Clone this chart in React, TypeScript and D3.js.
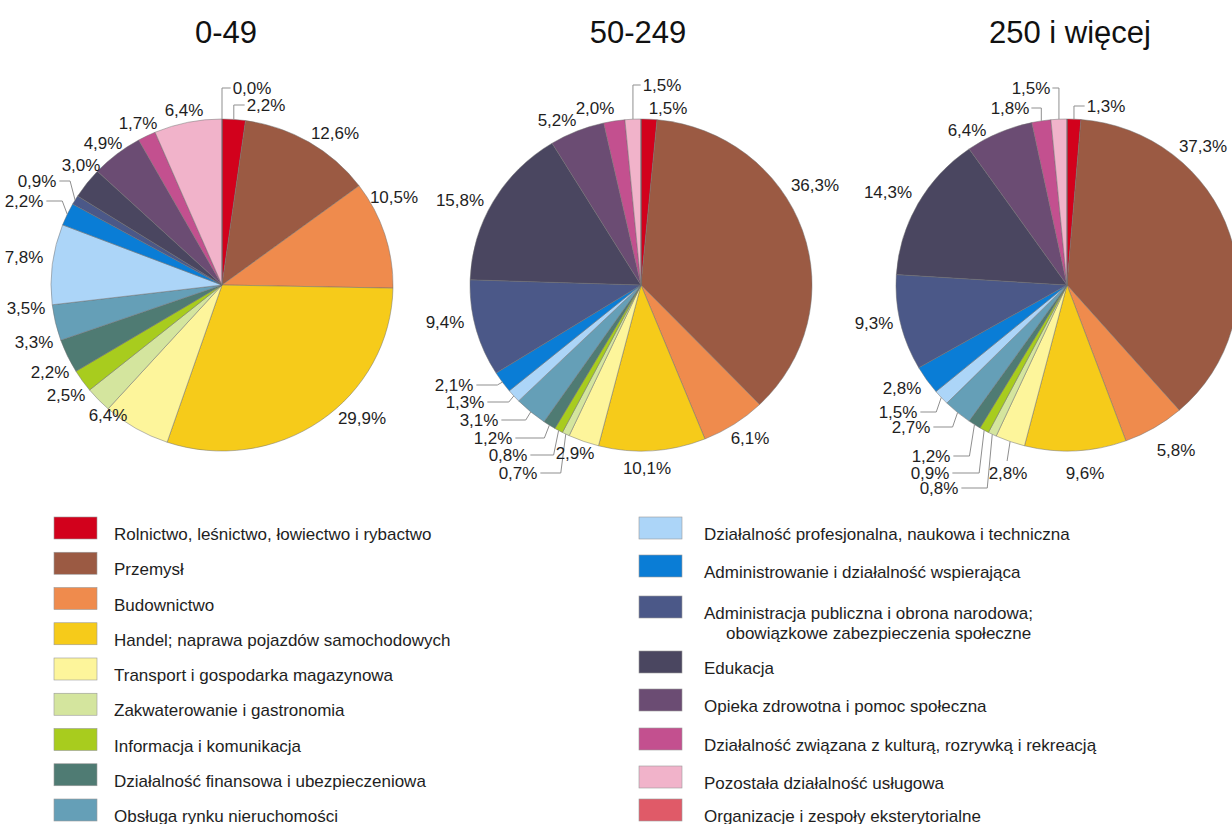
import React from 'react';
import * as d3 from 'd3';

// ---------- DATA ----------
const categories: string[] = [
  'Rolnictwo, leśnictwo, łowiectwo i rybactwo',
  'Przemysł',
  'Budownictwo',
  'Handel; naprawa pojazdów samochodowych',
  'Transport i gospodarka magazynowa',
  'Zakwaterowanie i gastronomia',
  'Informacja i komunikacja',
  'Działalność finansowa i ubezpieczeniowa',
  'Obsługa rynku nieruchomości',
  'Działalność profesjonalna, naukowa i techniczna',
  'Administrowanie i działalność wspierająca',
  'Administracja publiczna i obrona narodowa;\nobowiązkowe zabezpieczenia społeczne',
  'Edukacja',
  'Opieka zdrowotna i pomoc społeczna',
  'Działalność związana z kulturą, rozrywką i rekreacją',
  'Pozostała działalność usługowa',
  'Organizacje i zespoły eksterytorialne',
];

const groupTitles: string[] = ['0-49', '50-249', '250 i więcej'];

const values0_49: number[] = [2.2, 12.6, 10.5, 29.9, 6.4, 2.5, 2.2, 3.3, 3.5, 7.8, 2.2, 0.9, 3.0, 4.9, 1.7, 6.4, 0.0];
const values50_249: number[] = [1.5, 36.3, 6.1, 10.1, 2.9, 0.7, 0.8, 1.2, 3.1, 1.3, 2.1, 9.4, 15.8, 5.2, 2.0, 1.5, 0.0];
const values250plus: number[] = [1.3, 37.3, 5.8, 9.6, 2.8, 0.8, 0.9, 1.2, 2.7, 1.5, 2.8, 9.3, 14.3, 6.4, 1.8, 1.5, 0.0];

// ---------- STYLE / LAYOUT ----------
const colors: string[] = [
  '#d2011c', '#9b5a43', '#ef8b4d', '#f6cb1a', '#fdf59b', '#d4e59e', '#a8cc1e', '#4f7b73',
  '#659fb7', '#acd5f8', '#0a7dd6', '#4b5888', '#4a4660', '#6b4c73', '#c3508f', '#f1b3ca', '#e05a68',
];

const W = 1232;
const H = 824;
const RX = 171;
const RY = 166;
const pieCenters: [number, number][] = [[222, 285], [641, 285], [1067, 285]];
const titleShift: number[] = [4, -3, 3];
const LABEL_FONT = 17;
const rightRowGaps: number[] = [38, 41, 55, 38, 39, 38, 33];

// label placement relative to pie centre: [dx, dy, leader type] ; null = no label
type Lab = [number, number, string] | null;
const labels0_49: Lab[] = [
  [44, -180, 'vr'], [113, -152, ''], [172, -88, ''], [140, 133, ''], [-114, 130, ''], [-156, 110, ''],
  [-172, 87, ''], [-188, 57, ''], [-196, 23, ''], [-198, -28, ''], [-198, -84, 'hl'], [-185, -104, 'hl'],
  [-141, -120, ''], [-119, -142, ''], [-84, -162, ''], [-38, -175, ''], [30, -197, 'vr'],
];
const labels50_249: Lab[] = [
  [27, -177, ''], [174, -100, ''], [109, 153, ''], [6, 183, ''], [-66, 168, ''], [-123, 188, 'hl'],
  [-133, 170, 'hl'], [-148, 153, 'hl'], [-162, 135, 'hl'], [-176, 117, 'hl'], [-187, 100, 'hl'],
  [-196, 37, ''], [-181, -85, ''], [-84, -165, ''], [-46, -177, ''], [21, -200, 'vr'], null,
];
const labels250plus: Lab[] = [
  [39, -179, 'vr'], [136, -139, ''], [109, 165, ''], [18, 188, ''], [-59, 188, 'up'], [-128, 203, 'hl'],
  [-137, 188, 'hl'], [-136, 171, 'hl'], [-156, 142, 'hl'], [-169, 127, 'hl'], [-165, 103, ''],
  [-193, 38, ''], [-179, -93, ''], [-100, -155, ''], [-57, -177, 'vl'], [-36, -197, 'vl'], null,
];

const pies = [
  { title: groupTitles[0], values: values0_49, labels: labels0_49 },
  { title: groupTitles[1], values: values50_249, labels: labels50_249 },
  { title: groupTitles[2], values: values250plus, labels: labels250plus },
];

const fmt = (v: number) => d3.format('.1f')(v).replace('.', ',') + '%';
const textWidth = (s: string) => {
  let w = 0;
  for (const ch of s) {
    if (ch === ',') w += 0.278;
    else if (ch === '%') w += 0.889;
    else w += 0.556;
  }
  return w * LABEL_FONT;
};

const FONT = '"Liberation Sans", Arial, Helvetica, sans-serif';

function Pie({ idx }: { idx: number }) {
  const { title, values, labels } = pies[idx];
  const [cx, cy] = pieCenters[idx];
  const pieGen = d3.pie<number>().value((d) => d).sort(null);
  const arcs = pieGen(values);
  const arcGen = d3.arc<d3.PieArcDatum<number>>().innerRadius(0).outerRadius(RY);
  const leaders: JSX.Element[] = [];
  const texts: JSX.Element[] = [];
  arcs.forEach((a, i) => {
    const lab = labels[i];
    if (!lab) return;
    const mid = (a.startAngle + a.endAngle) / 2;
    const ax = cx + RX * Math.sin(mid);
    const ay = cy - RY * Math.cos(mid);
    const lx = cx + lab[0];
    const ly = cy + lab[1];
    const s = fmt(values[i]);
    const w = textWidth(s);
    const left = lx - w / 2;
    const right = lx + w / 2;
    let pts: [number, number][] | null = null;
    if (lab[2] === 'vr') pts = [[ax, ay], [ax, ly], [left - 2, ly]];
    else if (lab[2] === 'vl') pts = [[ax, ay], [ax, ly], [right + 2, ly]];
    else if (lab[2] === 'hl') pts = [[ax, ay], [ax - 5, ly], [right + 3, ly]];
    else if (lab[2] === 'up') pts = [[ax, ay], [ax - 3, ly - 12]];
    if (pts) {
      leaders.push(
        <polyline key={'l' + i} points={pts.map((p) => p.join(',')).join(' ')} fill="none" stroke="#8f8f8f" strokeWidth={1} />
      );
    }
    texts.push(
      <text key={'t' + i} x={lx} y={ly} dy="0.36em" textAnchor="middle" fontSize={LABEL_FONT} fill="#1e1e1e">
        {s}
      </text>
    );
  });
  return (
    <g>
      <text x={cx + titleShift[idx]} y={43} textAnchor="middle" fontSize={31} fill="#111">
        {title}
      </text>
      <g transform={`translate(${cx},${cy}) scale(${RX / RY},1)`}>
        {arcs.map((a, i) => (
          <path
            key={i}
            d={arcGen(a) || ''}
            fill={colors[i]}
            stroke="#707070"
            strokeOpacity={0.7}
            strokeWidth={0.7}
            vectorEffect="non-scaling-stroke"
          />
        ))}
      </g>
      {leaders}
      {texts}
    </g>
  );
}

function Legend() {
  const leftItems = d3.range(0, 9);
  const rightItems = d3.range(9, categories.length);
  const leftY = d3.scaleLinear().domain([0, 8]).range([517, 799]);
  const rightTops: number[] = [517];
  rightRowGaps.forEach((g) => rightTops.push(rightTops[rightTops.length - 1] + g));
  const sw = 43;
  const sh = 22;
  const row = (i: number, x: number, y: number, tx: number) => {
    const lines = categories[i].split('\n');
    return (
      <g key={'lg' + i}>
        <rect x={x} y={y} width={sw} height={sh} fill={colors[i]} stroke="#9a9a9a" strokeWidth={0.6} />
        {lines.map((ln, k) => (
          <text key={k} x={tx + (k > 0 ? 22 : 0)} y={y + 17 + k * 20} dy="0.36em" fontSize={17} fill="#1e1e1e">
            {ln}
          </text>
        ))}
      </g>
    );
  };
  return (
    <g>
      {leftItems.map((i, k) => row(i, 54, leftY(k), 114))}
      {rightItems.map((i, k) => row(i, 639, rightTops[k], 704))}
    </g>
  );
}

export default function App() {
  return (
    <svg
      width={W}
      height={H}
      viewBox={`0 0 ${W} ${H}`}
      style={{ position: 'absolute', left: 0, top: 0, display: 'block', background: '#fff' }}
      fontFamily={FONT}
    >
      <rect x={0} y={0} width={W} height={H} fill="#fff" />
      {pies.map((_, i) => (
        <Pie key={i} idx={i} />
      ))}
      <Legend />
    </svg>
  );
}
